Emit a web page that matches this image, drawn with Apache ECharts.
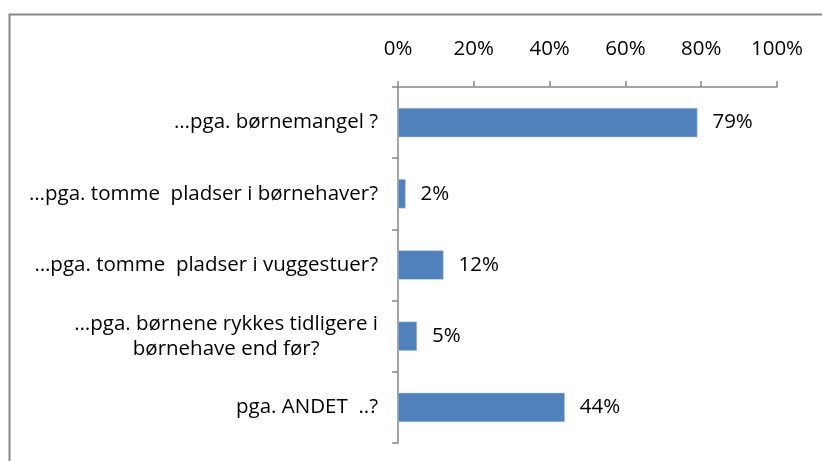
<!DOCTYPE html>
<html>
<head>
<meta charset="utf-8">
<script src="https://cdn.jsdelivr.net/npm/echarts@6/dist/echarts.min.js"></script>
<style>html,body{margin:0;padding:0;background:#fff}#c{width:822px;height:461px}</style>
</head>
<body>
<div id="c"></div>
<script>
var categories = [
  "…pga. børnemangel ?",
  "…pga. tomme  pladser i børnehaver?",
  "…pga. tomme  pladser i vuggestuer?",
  "…pga. børnene rykkes tidligere i\nbørnehave end før?",
  "pga. ANDET  ..?"
];
var values = [0.79, 0.02, 0.12, 0.05, 0.44];
var tickLabels = ["0%", "20%", "40%", "60%", "80%", "100%"];

var FONT = "Open Sans";
var FS = 20.5;
var chart = echarts.init(document.getElementById('c'), null, {renderer: 'canvas'});
chart.setOption({
  animation: false,
  backgroundColor: '#fff',
  graphic: [{
    type: 'rect', left: 7, top: 12, silent: true,
    shape: {width: 900, height: 500},
    style: {fill: 'none', stroke: '#868686', lineWidth: 2}
  }],
  grid: {left: 398, right: 45, top: 87, bottom: 18},
  xAxis: {
    type: 'value', position: 'top', min: 0, max: 1, interval: 0.2,
    axisLine: {show: true, lineStyle: {color: '#868686', width: 1.5}},
    axisTick: {show: true, length: 6, lineStyle: {color: '#868686', width: 1.5}},
    splitLine: {show: false},
    axisLabel: {
      margin: 27, color: '#000', fontFamily: FONT, fontSize: FS,
      formatter: function (v) { return tickLabels[Math.round(v / 0.2)]; }
    }
  },
  yAxis: {
    type: 'category', inverse: true, data: categories,
    axisLine: {show: true, lineStyle: {color: '#868686', width: 1.5}},
    axisTick: {show: true, length: 6, lineStyle: {color: '#868686', width: 1.5}},
    axisLabel: {
      margin: 20, color: '#000', fontFamily: FONT, fontSize: FS, lineHeight: 25,
      formatter: function (v) { return '{c|' + v.split('\n').join('}\n{c|') + '}'; },
      rich: {c: {align: 'center', fontFamily: FONT, fontSize: FS, lineHeight: 25, color: '#000'}}
    }
  },
  series: [{
    type: 'bar', data: values, barCategoryGap: '59%',
    itemStyle: {color: '#4F81BD', borderColor: '#a9c1df', borderWidth: 0.5},
    label: {
      show: true, position: 'right', distance: 15, color: '#000',
      fontFamily: FONT, fontSize: FS,
      formatter: function (p) { return Math.round(p.value * 100) + '%'; }
    }
  }]
});
</script>
</body>
</html>
